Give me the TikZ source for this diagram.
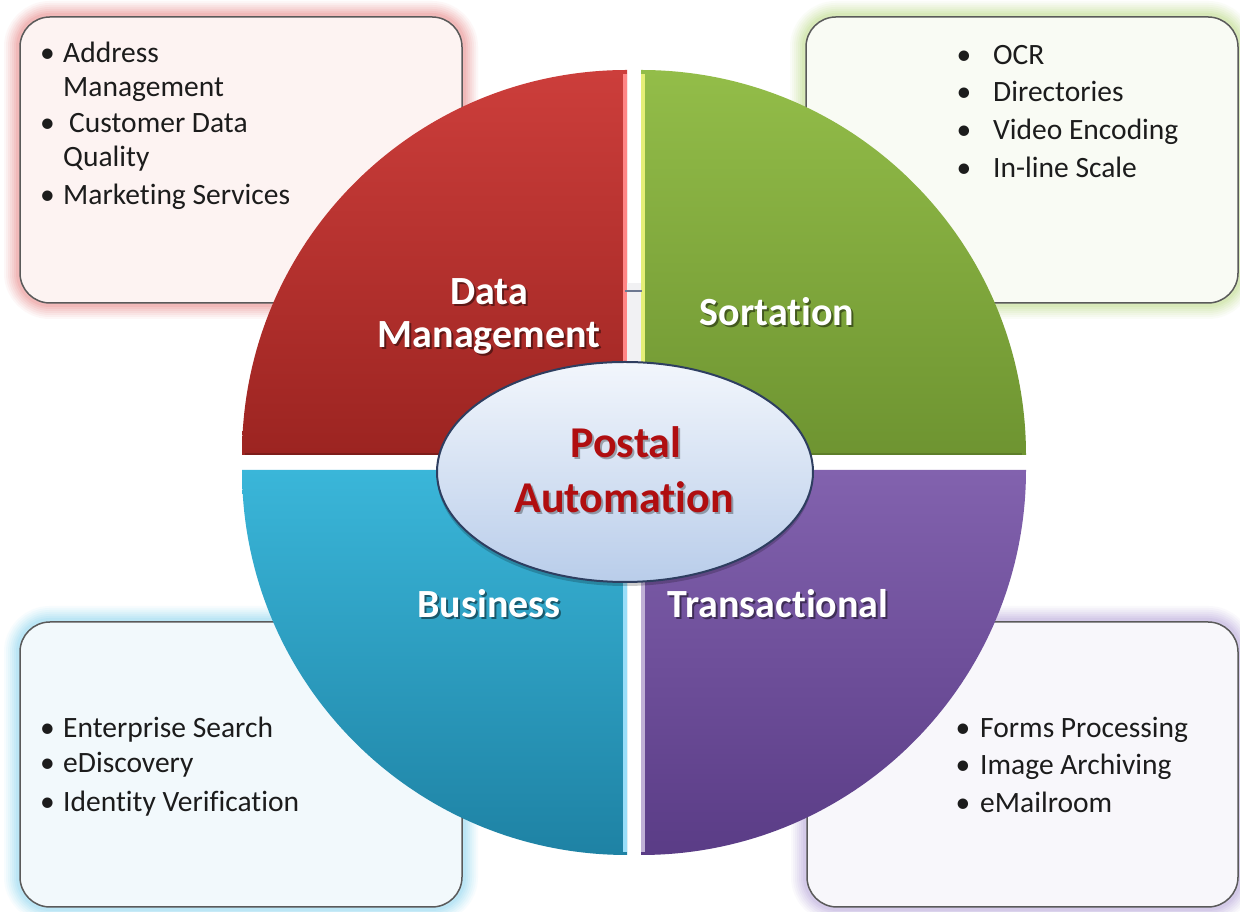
\documentclass[tikz,border=0pt]{standalone}
\usepackage{fontspec}
\setmainfont{Carlito}[Ligatures=NoCommon]
\usetikzlibrary{shapes.geometric}
\definecolor{redA}{HTML}{CC3E3B}
\definecolor{redB}{HTML}{9C2421}
\definecolor{grnA}{HTML}{93BD49}
\definecolor{grnB}{HTML}{6E9431}
\definecolor{bluA}{HTML}{3AB6D9}
\definecolor{bluB}{HTML}{1E82A4}
\definecolor{purA}{HTML}{8262AE}
\definecolor{purB}{HTML}{5A3C86}
\definecolor{redbox}{HTML}{FDF3F2}
\definecolor{grnbox}{HTML}{F9FBF4}
\definecolor{blubox}{HTML}{F2F9FC}
\definecolor{purbox}{HTML}{F8F7FB}
\definecolor{redglow}{HTML}{E87878}
\definecolor{grnglow}{HTML}{B8D878}
\definecolor{bluglow}{HTML}{80D4F0}
\definecolor{purglow}{HTML}{B09AD6}
\definecolor{boxgray}{HTML}{5A5A5A}
\definecolor{txt}{HTML}{1C1C1C}
\definecolor{ellA}{HTML}{F2F6FC}
\definecolor{ellB}{HTML}{B9CDEA}
\definecolor{ellline}{HTML}{2E3E60}
\definecolor{hubred}{HTML}{B00E10}
\tikzset{
  infobox/.style={draw=boxgray, line width=1.5pt, rounded corners=30pt, inner sep=0pt,
    preaction={draw=#1, line width=32pt, opacity=0.06},
    preaction={draw=#1, line width=28pt, opacity=0.07},
    preaction={draw=#1, line width=24pt, opacity=0.08},
    preaction={draw=#1, line width=20pt, opacity=0.09},
    preaction={draw=#1, line width=16pt, opacity=0.10},
    preaction={draw=#1, line width=12pt, opacity=0.12},
    preaction={draw=#1, line width=8pt, opacity=0.15}},
  bul/.style={font=\fontsize{29.5}{34}\selectfont, text=txt, inner sep=0pt},
  dot/.style={bul, anchor=base},
  item/.style={bul, anchor=base west},
  ttl/.style={font=\fontsize{40}{46}\selectfont\bfseries, text=white, inner sep=0pt, anchor=base},
  ttlsh/.style={ttl, text=black, opacity=0.45, xshift=2pt, yshift=-2pt},
  hub/.style={font=\fontsize{44}{50}\selectfont\bfseries, text=hubred, inner sep=0pt, anchor=base},
  hubsh/.style={hub, text=black, opacity=0.3, xshift=2pt, yshift=-2pt},
  edgehl/.style={line width=4pt, line cap=butt}
}
\begin{document}
\begin{tikzpicture}[x=1pt,y=1pt]
\useasboundingbox (0,0) rectangle (1240,912);
\fill[white] (0,0) rectangle (1240,912);

% boxes
\node[infobox=redglow, fill=redbox, minimum width=442pt, minimum height=286pt] (tlbox) at (241,752) {};
\node[infobox=grnglow, fill=grnbox, minimum width=432pt, minimum height=286pt] (trbox) at (1022,752) {};
\node[infobox=bluglow, fill=blubox, minimum width=442pt, minimum height=285pt] (blbox) at (241,147.5) {};
\node[infobox=purglow, fill=purbox, minimum width=431pt, minimum height=285pt] (brbox) at (1022.5,147.5) {};

% quadrants
\shade[top color=redA, bottom color=redB] (627,457) -- (242,457) arc[start angle=180,end angle=90,radius=385] -- cycle;
\shade[top color=grnA, bottom color=grnB] (641,457) -- (641,842) arc[start angle=90,end angle=0,radius=385] -- cycle;
\shade[top color=bluA, bottom color=bluB] (627,442) -- (242,442) arc[start angle=180,end angle=270,radius=385] -- cycle;
\shade[top color=purA, bottom color=purB] (641,442) -- (1026,442) arc[start angle=0,end angle=-90,radius=385] -- cycle;

% edge highlights
\draw[edgehl, draw=red!30!pink] (625,460) -- (625,838);
\draw[edgehl, draw=redB!80!black, line width=2pt] (245,458) -- (623,458);
\draw[edgehl, draw=grnA!40!yellow!60!white] (643,460) -- (643,838);
\draw[edgehl, draw=grnB!85!black, line width=2pt] (645,458) -- (1022,458);
\draw[edgehl, draw=cyan!40!white] (625,60) -- (625,438);
\draw[edgehl, draw=purA!50!white] (643,60) -- (643,438);

% gap detail
\fill[blue!8!gray!10!white] (627,550) rectangle (641,629);
\draw[ellline!70!white, line width=1.5pt] (625,621) -- (642,621);

% hub ellipse
\node[ellipse, minimum width=376pt, minimum height=220pt, draw=ellline, line width=2pt,
      top color=ellA, bottom color=ellB,
      preaction={fill=black, opacity=0.2, transform canvas={yshift=-4pt}}] (hubell) at (625,440) {};

% quadrant titles
\node[ttlsh] (t1s) at (489,607) {Data};
\node[ttl] (t1) at (489,607) {Data};
\node[ttlsh] (t2s) at (489,564) {Management};
\node[ttl] (t2) at (489,564) {Management};
\node[ttlsh] (t3s) at (777,586) {Sortation};
\node[ttl] (t3) at (777,586) {Sortation};
\node[ttlsh] (t4s) at (489,294) {Business};
\node[ttl] (t4) at (489,294) {Business};
\node[ttlsh] (t5s) at (778,294) {Transactional};
\node[ttl] (t5) at (778,294) {Transactional};

% hub title
\node[hubsh] (h1s) at (626,454) {Postal};
\node[hub] (h1) at (626,454) {Postal};
\node[hubsh] (h2s) at (624,399) {Automation};
\node[hub] (h2) at (624,399) {Automation};

% top-left list
\node[dot] (tld1) at (47.5,849) {•};
\node[item] (tl1) at (63,849) {Address};
\node[item] (tl1b) at (63,815) {Management};
\node[dot] (tld2) at (47.5,779) {•};
\node[item] (tl2) at (69,779) {Customer Data};
\node[item] (tl2b) at (63,745) {Quality};
\node[dot] (tld3) at (47.5,707) {•};
\node[item] (tl3) at (63,707) {Marketing Services};

% top-right list
\node[dot] (trd1) at (964,847) {•};
\node[item] (tr1) at (993,847) {OCR};
\node[dot] (trd2) at (964,810) {•};
\node[item] (tr2) at (993,810) {Directories};
\node[dot] (trd3) at (964,772) {•};
\node[item] (tr3) at (993,772) {Video Encoding};
\node[dot] (trd4) at (964,734) {•};
\node[item] (tr4) at (993,734) {In-line Scale};

% bottom-left list
\node[dot] (bld1) at (47.5,174) {•};
\node[item] (bl1) at (63,174) {Enterprise Search};
\node[dot] (bld2) at (47.5,139) {•};
\node[item] (bl2) at (63,139) {eDiscovery};
\node[dot] (bld3) at (47.5,100) {•};
\node[item] (bl3) at (63,100) {Identity Verification};

% bottom-right list
\node[dot] (brd1) at (963,174) {•};
\node[item] (br1) at (980,174) {Forms Processing};
\node[dot] (brd2) at (963,137) {•};
\node[item] (br2) at (980,137) {Image Archiving};
\node[dot] (brd3) at (963,99) {•};
\node[item] (br3) at (980,99) {eMailroom};
\end{tikzpicture}
\end{document}
